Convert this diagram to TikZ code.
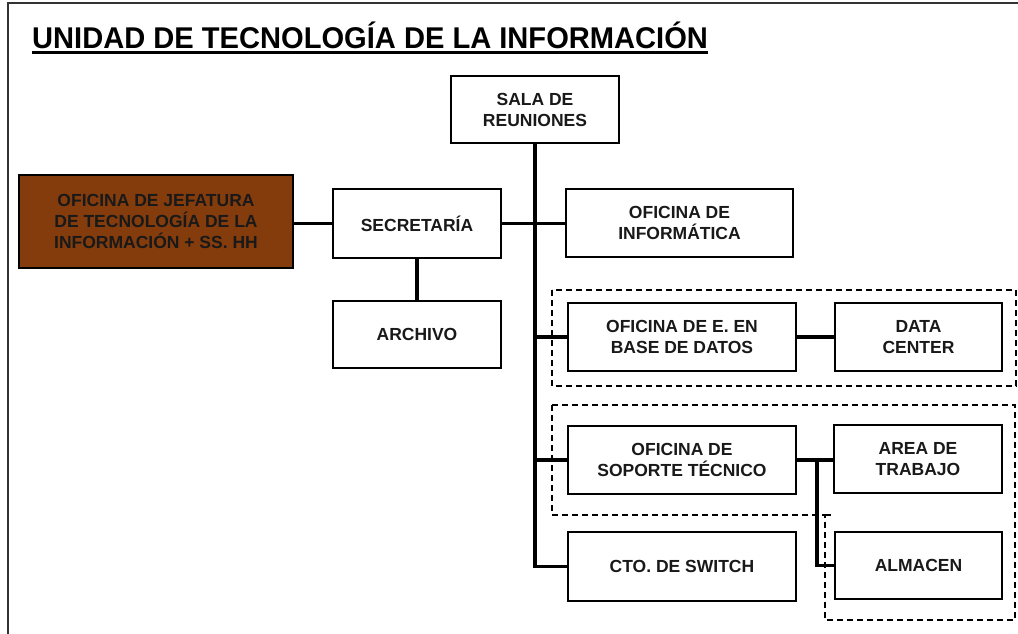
\documentclass[tikz,border=0pt]{standalone}
\usepackage{fontspec}
\setmainfont{Liberation Sans}
\usetikzlibrary{calc}
\definecolor{jefbrown}{HTML}{843C0C}
\tikzset{
  box/.style={draw=black, line width=2.2pt, fill=white, inner sep=0pt, align=center,
    font=\fontsize{17.5}{21}\selectfont\bfseries, text=black!90},
  conn/.style={line width=3.5pt},
  grp/.style={line width=1.8pt, dash pattern=on 6pt off 4pt},
}
\begin{document}
\begin{tikzpicture}[x=1pt,y=-1pt]
\useasboundingbox (0,0) rectangle (1018,634);
% frame
\draw[line width=2pt, black!80] (8,634) -- (8,3) -- (1018,3);
% title
\node[anchor=base west, inner sep=0pt, font=\fontsize{30}{32}\selectfont\bfseries, xscale=0.97] (title) at (32,48.5) {UNIDAD DE TECNOLOGÍA DE LA INFORMACIÓN};
\draw[line width=3pt] ($(title.base west)+(0,4.5)$) -- ($(title.base east)+(0,4.5)$);
% dashed groups
\draw[grp] (552,290) rectangle (1016,386);
\draw[grp] (552,405) -- (1015,405) -- (1015,620) -- (825,620) -- (825,515) -- (552,515) -- cycle;
\draw[grp] (825,515) -- (833,515);
% boxes
\node[box, minimum width=168pt, minimum height=67pt] (sala) at (535,109.5) {SALA DE\\REUNIONES};
\node[box, minimum width=168pt, minimum height=69pt] (sec) at (417,223.5) {SECRETARÍA};
\node[box, fill=jefbrown, minimum width=274pt, minimum height=93pt] (jef) at (156,221.5) {OFICINA DE JEFATURA\\DE TECNOLOGÍA DE LA\\INFORMACIÓN + SS. HH};
\node[box, minimum width=227pt, minimum height=68pt] (inf) at (679.5,223) {OFICINA DE\\INFORMÁTICA};
\node[box, minimum width=168pt, minimum height=67pt] (arch) at (417,334.5) {ARCHIVO};
\node[box, minimum width=228pt, minimum height=68pt] (bd) at (682,337) {OFICINA DE E. EN\\BASE DE DATOS};
\node[box, minimum width=167pt, minimum height=68pt] (dc) at (918.5,337) {DATA\\CENTER};
\node[box, minimum width=228pt, minimum height=68pt] (sop) at (682,460) {OFICINA DE\\SOPORTE TÉCNICO};
\node[box, minimum width=168pt, minimum height=68pt] (at) at (918,459) {AREA DE\\TRABAJO};
\node[box, minimum width=228pt, minimum height=69pt] (sw) at (682,566.5) {CTO. DE SWITCH};
\node[box, minimum width=167pt, minimum height=67pt] (alm) at (918.5,565.5) {ALMACEN};
% connectors
\draw[conn] (sala.south) -- (sala.south |- sw.west) -- (sw.west);
\draw[conn] (sala.south |- bd.west) -- (bd.west);
\draw[conn] (sala.south |- sop.west) -- (sop.west);
\draw[conn] (jef.east |- sec.west) -- (sec.west);
\draw[conn] (sec.east) -- (inf.west |- sec.east);
\draw[conn] (sec.south) -- (arch.north);
\draw[conn] (bd.east) -- (dc.west);
\draw[conn] (sop.east) -- (sop.east -| at.west);
\coordinate (j) at ($(sop.east)+(20,0)$);
\draw[conn] (j) |- (alm.west);
\end{tikzpicture}
\end{document}
